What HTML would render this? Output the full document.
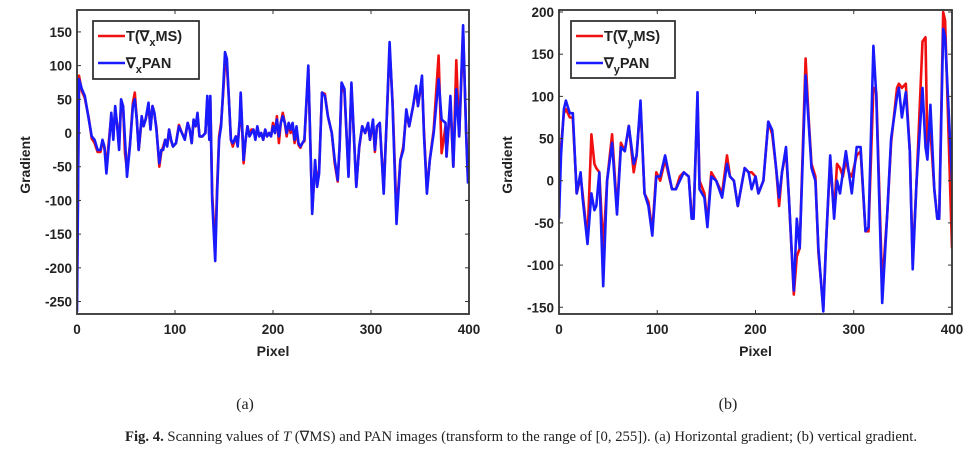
<!DOCTYPE html>
<html><head><meta charset="utf-8">
<style>
body{margin:0;background:#fff;width:976px;height:461px;overflow:hidden;font-family:"Liberation Sans",sans-serif}
svg{position:absolute;left:0;top:0}
.cap{position:absolute;left:33px;width:976px;top:428px;text-align:center;font-family:"Liberation Serif",serif;font-size:14.7px;color:#222;white-space:nowrap}
</style></head><body>
<svg id="chart" width="976" height="461"></svg>
<div class="cap"><b>Fig. 4.</b> Scanning values of <i>T</i> (∇MS) and PAN images (transform to the range of [0, 255]). (a) Horizontal gradient; (b) vertical gradient.</div>
<script>
const aX=[0,2,5,8,12,15,18,21,24,26,28,30,33,35,37,39,41,43,45,47,49,51,54,57,59,61,63,66,68,70,73,75,77,79,81,84,86,88,90,92,94,96,98,101,104,107,110,113,115,117,119,121,123,125,128,131,133,135,136,138,141,143,145,147,149,151,153,155,157,159,162,164,166,167,168,170,172,174,176,178,180,182,184,186,188,190,192,194,196,198,200,202,204,206,208,210,212,214,216,218,220,222,224,226,228,230,232,236,240,243,245,247,250,253,256,260,263,266,268,270,273,277,280,285,288,291,294,297,299,302,304,306,309,313,316,319,322,326,330,333,336,339,343,346,348,352,354,357,360,364,369,372,376,377,381,384,387,390,394,397,399];
const aBlue=[-265,80,65,55,20,-5,-10,-25,-25,-10,-20,-60,-10,30,-10,40,10,-25,50,40,-10,-65,-20,40,50,20,-25,25,10,20,45,5,40,30,5,-45,-25,-25,-10,-20,5,-10,-20,-15,10,0,-10,15,5,-15,20,10,30,-5,-5,0,55,-10,55,-100,-190,-90,-10,10,60,120,110,50,-10,-15,-5,-20,20,60,30,-40,-10,10,-5,0,5,-10,10,-5,0,-10,5,-5,0,-5,10,0,20,-5,15,25,15,0,15,5,15,-10,10,-15,-20,-15,-10,100,-120,-40,-80,-60,60,55,25,0,-40,-70,-20,75,65,-65,75,-80,-20,10,0,15,-10,20,-25,10,15,-90,20,135,40,-135,-40,-25,35,10,40,70,40,85,0,-90,-40,0,80,20,15,-35,55,-50,65,-5,160,0,-75];
const aRed=[-240,85,62,52,22,-8,-15,-28,-28,-12,-22,-50,-5,25,-5,35,12,-20,45,40,-30,-55,-18,45,60,20,-25,20,12,20,40,8,40,28,8,-50,-28,-20,-10,-18,5,-12,-20,-15,12,0,-8,15,5,-15,18,10,25,-5,-5,0,50,-5,50,-90,-175,-80,-5,15,55,105,100,50,-10,-20,-5,-15,15,55,25,-45,-10,10,-5,5,5,-5,8,-5,0,-10,5,-5,0,-5,15,0,25,-15,15,30,15,-5,15,0,10,-15,5,-18,-22,-15,-12,95,-115,-45,-75,-55,60,58,25,0,-45,-72,-20,70,60,-62,70,-78,-22,10,0,12,-10,15,-28,10,12,-85,20,125,45,-120,-40,-20,30,10,40,65,40,80,5,-85,-40,5,115,-30,10,-35,45,-50,108,-5,150,5,-70];

const bX=[0,2,5,7,11,14,18,22,24,29,33,36,38,41,45,49,54,59,63,67,71,76,79,83,87,91,95,99,103,108,115,119,123,127,132,135,137,141,143,148,151,155,160,166,171,174,178,182,189,193,196,200,203,208,213,217,221,224,227,231,234,239,242,245,251,254,257,261,264,269,272,276,280,283,286,289,292,295,298,303,307,312,315,320,323,329,334,338,344,346,349,353,357,360,364,370,373,375,378,382,385,387,391,393,400];
const bBlue=[-45,30,85,95,80,80,-15,10,-20,-75,-15,-35,-30,10,-125,0,45,-40,40,35,65,20,30,95,-15,-30,-65,5,5,30,-10,-10,0,10,5,-45,-45,105,-10,-20,-55,5,0,-20,20,5,0,-30,15,10,-10,5,-15,0,70,60,15,-20,10,40,-20,-130,-45,-80,125,70,15,0,-80,-155,-70,30,-45,0,-15,10,35,10,-15,40,40,-60,-55,160,100,-145,-40,50,100,110,75,105,35,-105,0,110,40,25,90,-10,-45,-45,180,170,0];
const bRed=[10,40,80,85,75,75,-15,5,-15,-70,55,20,15,10,-80,0,55,-35,45,35,65,10,30,90,-15,-25,-60,10,0,25,-10,-10,5,10,5,-40,-40,95,0,-15,-50,10,0,-15,30,5,0,-30,15,10,10,5,-15,0,70,55,15,-30,10,35,-20,-135,-90,-80,145,75,20,5,-85,-150,-70,25,-40,20,15,5,25,10,5,30,35,-60,-60,110,105,-125,-40,45,110,115,110,115,35,-95,0,165,170,40,60,-10,-45,-45,200,190,-80];

const NS="http://www.w3.org/2000/svg";
const svg=document.getElementById('chart');
function mk(tag,attrs,parent){const e=document.createElementNS(NS,tag);for(const k in attrs)e.setAttribute(k,attrs[k]);(parent||svg).appendChild(e);return e;}

function panel(cfg){
  const {L,R,T,B,ymin,ymax,yticks,xs,blue,red,lab,tag,sub,lx,ly,lw,lh,cx}=cfg;
  const g=mk('g',{});
  
  
  const sx=v=>L+(v-0)/400*(R-L);
  const sy=v=>T+(ymax-v)/(ymax-ymin)*(B-T);
  mk('rect',{x:L,y:T,width:R-L,height:B-T,fill:'#fff'},g);
  const pts=(arr)=>xs.map((x,i)=>sx(x).toFixed(1)+','+sy(arr[i]).toFixed(1)).join(' ');
  const cp=mk('clipPath',{id:'cp'+tag},g);mk('rect',{x:L,y:T,width:R-L,height:B-T},cp);
  const rl=mk('polyline',{points:pts(red),fill:'none',stroke:'#f01010','stroke-width':2.6,'stroke-linejoin':'round','clip-path':'url(#cp'+tag+')'},g);
  
  
  const bl=mk('polyline',{points:pts(blue),fill:'none',stroke:'#1a1aff','stroke-width':2.6,'stroke-linejoin':'round','clip-path':'url(#cp'+tag+')'},g);
  
  
  const box=mk('rect',{x:L,y:T,width:R-L,height:B-T,fill:'none',stroke:'#333','stroke-width':1.8},g);
  
  
  const ya=mk('g',{},g);
  
  
  yticks.forEach(v=>{
    mk('line',{x1:L,x2:L+4,y1:sy(v),y2:sy(v),stroke:'#333'},ya);
    mk('line',{x1:R,x2:R-4,y1:sy(v),y2:sy(v),stroke:'#333'},ya);
    const t=mk('text',{x:L-5,y:sy(v)+5,'text-anchor':'end','font-size':13.5,'font-weight':'bold',fill:'#222'},ya);
    t.textContent=v;
  });
  const xa=mk('g',{},g);
  
  
  [0,100,200,300,400].forEach(v=>{
    mk('line',{x1:sx(v),x2:sx(v),y1:B,y2:B-4,stroke:'#333'},xa);
    mk('line',{x1:sx(v),x2:sx(v),y1:T,y2:T+4,stroke:'#333'},xa);
    const t=mk('text',{x:sx(v),y:B+20,'text-anchor':'middle','font-size':13.5,'font-weight':'bold',fill:'#222'},xa);
    t.textContent=v;
  });
  const xt=mk('text',{x:(L+R)/2,y:B+42,'text-anchor':'middle','font-size':14,'font-weight':'bold',fill:'#222'},g);
  xt.textContent='Pixel';
  
  
  const yt=mk('text',{x:0,y:0,'text-anchor':'middle','font-size':14,'font-weight':'bold',fill:'#222',transform:`translate(${L-47},${(T+B)/2+3}) rotate(-90)`},g);
  yt.textContent='Gradient';
  
  
  const lg=mk('g',{},g);
  
  
  mk('rect',{x:lx,y:ly,width:lw,height:lh,fill:'#fff',stroke:'#333','stroke-width':1.8},lg);
  mk('line',{x1:lx+5,x2:lx+32,y1:ly+15,y2:ly+15,stroke:'#f01010','stroke-width':2.6},lg);
  mk('line',{x1:lx+5,x2:lx+32,y1:ly+42,y2:ly+42,stroke:'#1a1aff','stroke-width':2.6},lg);
  const t1=mk('text',{x:lx+33,y:ly+20,'font-size':14.5,'font-weight':'bold',fill:'#222'},lg);
  t1.innerHTML='T(∇<tspan dy="5" font-size="11">'+sub+'</tspan><tspan dy="-5">MS)</tspan>';
  
  
  const t2=mk('text',{x:lx+33,y:ly+47,'font-size':14.5,'font-weight':'bold',fill:'#222'},lg);
  t2.innerHTML='∇<tspan dy="5" font-size="11">'+sub+'</tspan><tspan dy="-5">PAN</tspan>';
  
  
  const pl=mk('text',{x:cx,y:409,'text-anchor':'middle','font-size':16,'font-family':'Liberation Serif, serif',fill:'#222'},g);
  pl.textContent=lab;
  
  
}
panel({L:77,R:469,T:10,B:314,ymin:-268.5,ymax:182.5,yticks:[150,100,50,0,-50,-100,-150,-200,-250],xs:aX,blue:aBlue,red:aRed,lab:'(a)',tag:'a',sub:'x',lx:93,ly:21,lw:106,lh:58,cx:245});
panel({L:559,R:952,T:10,B:314,ymin:-158,ymax:202.4,yticks:[200,150,100,50,0,-50,-100,-150],xs:bX,blue:bBlue,red:bRed,lab:'(b)',tag:'b',sub:'y',lx:571,ly:21,lw:104,lh:57,cx:728});
</script>
</body></html>
